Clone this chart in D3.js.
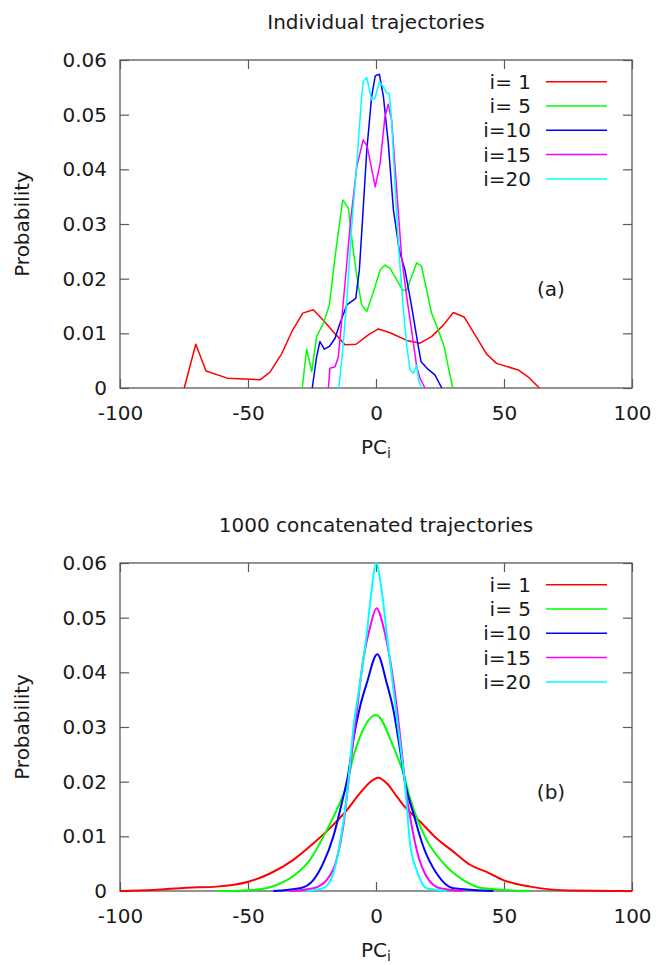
<!DOCTYPE html>
<html>
<head>
<meta charset="utf-8">
<title>PC distributions</title>
<script src="https://d3js.org/d3.v7.min.js"></script>
<style>
    body { margin: 0; background: #fff; }
    text { font-family: "DejaVu Sans", sans-serif; fill: #1a1a1a; }
    .frame { fill: none; stroke: #5a5a5a; stroke-width: 1.3; }
    .tick line { stroke: #5a5a5a; stroke-width: 1.2; }
    .curve { fill: none; stroke-linejoin: round; }
</style>
</head>
<body>
<svg width="658" height="965"></svg>
<script>
// axis ticks
const xTicks = [-100, -50, 0, 50, 100];
const xTickLabels = ["-100", "-50", "0", "50", "100"];
const yTicks = [0, 0.01, 0.02, 0.03, 0.04, 0.05, 0.06];
const yTickLabels = ["0", "0.01", "0.02", "0.03", "0.04", "0.05", "0.06"];

// legend
const seriesLabels = ["i= 1", "i= 5", "i=10", "i=15", "i=20"];
const seriesColors = ["#ff0000", "#00ff00", "#0000ff", "#ff00ff", "#00ffff"];

// (a) individual trajectories, [PC, probability]
const indivI1 = [[-74.9,0],[-70.4,0.008],[-66.4,0.0031],[-58.1,0.0018],[-45.3,0.0015],[-41.4,0.0029],
    [-36.8,0.0063],[-32.9,0.0103],[-28.6,0.0137],[-24.5,0.0143],[-20.6,0.0124],[-16.7,0.0103],
    [-12.1,0.0079],[-7.8,0.008],[-3.0,0.0097],[0.9,0.0108],[5.5,0.0101],[12.0,0.0087],[17.2,0.0082],
    [21.7,0.0094],[26.3,0.0115],[30.2,0.0138],[34.4,0.013],[38.7,0.0097],[43.2,0.0062],[47.1,0.0045],
    [55.6,0.0033],[59.5,0.002],[63.8,0]];
const indivI5 = [[-28.8,0],[-27.1,0.0071],[-25.1,0.003],[-23.2,0.0094],[-20.6,0.0118],[-18.2,0.0152],
    [-16.0,0.024],[-13.0,0.0344],[-10.8,0.0329],[-8.9,0.0252],[-7.3,0.0198],[-5.6,0.0152],[-3.6,0.014],
    [-1.0,0.0176],[1.6,0.0216],[3.5,0.0225],[5.5,0.0219],[8.1,0.0198],[10.4,0.0179],[12.0,0.0179],
    [13.9,0.0204],[15.9,0.0229],[17.8,0.0223],[19.8,0.0179],[21.7,0.0137],[24.3,0.0106],[26.6,0.0076],
    [28.2,0.0039],[30.0,0]];
const indivI10 = [[-24.9,0],[-23.2,0.0057],[-21.9,0.0085],[-20.2,0.0071],[-18.2,0.0076],[-16.0,0.0091],
    [-14.1,0.0118],[-11.4,0.0152],[-7.9,0.0164],[-6.5,0.0216],[-5.2,0.0313],[-3.6,0.0435],[-1.7,0.0533],
    [-0.3,0.0571],[1.3,0.0574],[2.9,0.0533],[4.8,0.0448],[6.8,0.0326],[9.1,0.0252],[11.3,0.0216],
    [13.0,0.0173],[14.6,0.013],[16.3,0.0082],[17.6,0.0048],[20.4,0.0034],[23.0,0.0024],[25.7,0]];
const indivI15 = [[-18.6,0],[-18.0,0.0036],[-16.0,0.0039],[-14.7,0.0057],[-12.1,0.0192],[-9.9,0.0307],
    [-7.5,0.0405],[-5.0,0.0454],[-3.4,0.0441],[-0.3,0.0368],[1.6,0.0411],[3.5,0.0496],[4.8,0.0519],
    [6.1,0.049],[8.1,0.0362],[10.0,0.024],[12.0,0.0167],[13.9,0.0106],[15.9,0.0039],[17.2,0.0018],[19.1,0]];
const indivI20 = [[-14.5,0],[-13.0,0.007],[-11.4,0.0161],[-9.5,0.0295],[-7.5,0.0411],[-5.6,0.0533],
    [-5.0,0.056],[-3.6,0.0568],[-1.7,0.0527],[-0.4,0.053],[1.3,0.056],[2.9,0.0551],[4.2,0.0539],
    [5.2,0.0539],[6.1,0.049],[7.4,0.0374],[8.7,0.0265],[10.7,0.0143],[12.2,0.007],[13.3,0.0033],
    [14.6,0.0027],[15.9,0.0042],[16.6,0.0015],[17.8,0]];

// (b) 1000 concatenated trajectories, [PC, probability]
const concatI1 = [[-100,0],[-87,0.0002],[-74,0.0006],[-62.2,0.0008],[-49.9,0.0017],[-41.4,0.0032],
    [-32.3,0.0057],[-24.5,0.0087],[-18.0,0.0115],[-11.4,0.0148],[-6.25,0.0179],[-2.3,0.0199],
    [0.8,0.0207],[4.2,0.0197],[8.1,0.0173],[10.7,0.0157],[17.2,0.0127],[23.7,0.0096],[30.2,0.0072],
    [36.7,0.0048],[43.2,0.0035],[49.7,0.002],[60.2,0.0008],[75.8,0.0001],[100,0]];
const concatI5 = [[-62.2,0],[-47.9,0.0002],[-38.8,0.0011],[-31.0,0.0032],[-25.8,0.0057],[-20.6,0.0099],
    [-15.4,0.0148],[-11.4,0.0195],[-8.9,0.0245],[-6.25,0.0282],[0,0.0322],[6.8,0.0264],[10.7,0.0215],
    [13.3,0.017],[19.8,0.0093],[26.3,0.0051],[34.1,0.002],[41.9,0.0005],[60.2,0]];
const concatI10 = [[-40.1,0],[-29.7,0.0005],[-24.5,0.002],[-20.6,0.0051],[-16.7,0.0099],[-13.4,0.016],
    [-10.8,0.0215],[-8.9,0.0275],[-6.25,0.0337],[-3.6,0.038],[0.5,0.0433],[4.2,0.038],
    [6.8,0.0331],[9.4,0.0258],[11.5,0.0195],[14.6,0.0142],[18.5,0.0081],[23.7,0.0032],[30.2,0.0005],[45.8,0]];
const concatI15 = [[-33.6,0],[-24.5,0.0005],[-19.3,0.002],[-15.4,0.0057],[-12.8,0.0118],[-10.5,0.021],
    [-8.5,0.029],[-7.0,0.0349],[-5.0,0.0423],[-2.3,0.0483],[0.2,0.0517],[2.9,0.0483],[5.5,0.0423],
    [8.1,0.0337],[10.0,0.0258],[11.5,0.019],[13.3,0.0136],[15.9,0.0075],[19.8,0.0026],[25.0,0.0005],[34.1,0]];
const concatI20 = [[-27.1,0],[-20.6,0.0005],[-16.7,0.0032],[-14.1,0.0087],[-12.1,0.0148],[-10.5,0.0215],
    [-8.9,0.0295],[-6.25,0.038],[-3.6,0.0471],[-1.7,0.0551],[0,0.06],[2.2,0.0551],[4.2,0.0471],
    [6.8,0.0368],[9.4,0.027],[11.3,0.0197],[13.3,0.0087],[15.9,0.0038],[19.8,0.0005],[27.6,0]];

const svg = d3.select("svg");
svg.append("rect").attr("width", 658).attr("height", 965).attr("fill", "#fff");

const left = 120, right = 632, plotH = 328;
const x = d3.scaleLinear().domain([-100, 100]).range([left, right]);

const panels = [
    { title: "Individual trajectories", tag: "(a)", top: 60, curve: d3.curveLinear,
      series: [indivI1, indivI5, indivI10, indivI15, indivI20], width: 1.5 },
    { title: "1000 concatenated trajectories", tag: "(b)", top: 563, curve: d3.curveMonotoneX,
      series: [concatI1, concatI5, concatI10, concatI15, concatI20], width: 2 }
];

panels.forEach(p => {
    const top = p.top, bottom = top + plotH;
    const y = d3.scaleLinear().domain([0, 0.06]).range([bottom, top]);
    const g = svg.append("g");

    // axes with inward ticks on all four sides
    g.append("g").attr("transform", `translate(0,${bottom})`)
        .call(d3.axisBottom(x).tickValues(xTicks).tickSize(-9).tickPadding(18)
            .tickFormat((d, i) => xTickLabels[i]))
        .call(a => a.select(".domain").remove())
        .selectAll("text").attr("font-size", 20).attr("fill", "#1a1a1a");
    g.append("g").attr("transform", `translate(0,${top})`)
        .call(d3.axisTop(x).tickValues(xTicks).tickSize(-9).tickFormat(""))
        .call(a => a.select(".domain").remove());
    g.append("g").attr("transform", `translate(${left},0)`)
        .call(d3.axisLeft(y).tickValues(yTicks).tickSize(-9).tickPadding(13)
            .tickFormat((d, i) => yTickLabels[i]))
        .call(a => a.select(".domain").remove())
        .selectAll("text").attr("font-size", 20).attr("fill", "#1a1a1a");
    g.append("g").attr("transform", `translate(${right},0)`)
        .call(d3.axisRight(y).tickValues(yTicks).tickSize(-9).tickFormat(""))
        .call(a => a.select(".domain").remove());
    g.selectAll(".tick text").style("font-family", "DejaVu Sans, sans-serif");

    g.append("rect").attr("class", "frame")
        .attr("x", left).attr("y", top).attr("width", right - left).attr("height", plotH);

    // curves
    const line = d3.line().curve(p.curve).x(d => x(d[0])).y(d => y(d[1]));
    g.selectAll("path.curve").data(p.series).enter().append("path")
        .attr("class", "curve")
        .attr("d", line)
        .attr("stroke", (d, i) => seriesColors[i])
        .attr("stroke-width", p.width);

    // titles and labels
    g.append("text").attr("x", 376).attr("y", top - 31).attr("text-anchor", "middle")
        .attr("font-size", 20).text(p.title);
    g.append("text").attr("transform", `translate(29,${top + 164}) rotate(-90)`)
        .attr("text-anchor", "middle").attr("font-size", 20).text("Probability");
    const xl = g.append("text").attr("x", 376).attr("y", bottom + 66).attr("text-anchor", "middle")
        .attr("font-size", 20);
    xl.append("tspan").text("PC");
    xl.append("tspan").attr("font-size", 14).attr("dy", 4).text("i");
    g.append("text").attr("x", 551).attr("y", top + 236).attr("text-anchor", "middle")
        .attr("font-size", 20).text(p.tag);

    // legend
    const lg = g.selectAll("g.leg").data(seriesLabels).enter().append("g")
        .attr("transform", (d, i) => `translate(0,${top + 21.7 + i * 24.3})`);
    lg.append("text").attr("x", 531).attr("y", 7).attr("text-anchor", "end")
        .attr("font-size", 20).text(d => d);
    lg.append("line").attr("x1", 546).attr("x2", 607).attr("y1", 0).attr("y2", 0)
        .attr("stroke", (d, i) => seriesColors[i]).attr("stroke-width", 1.5);
});
</script>
</body>
</html>
